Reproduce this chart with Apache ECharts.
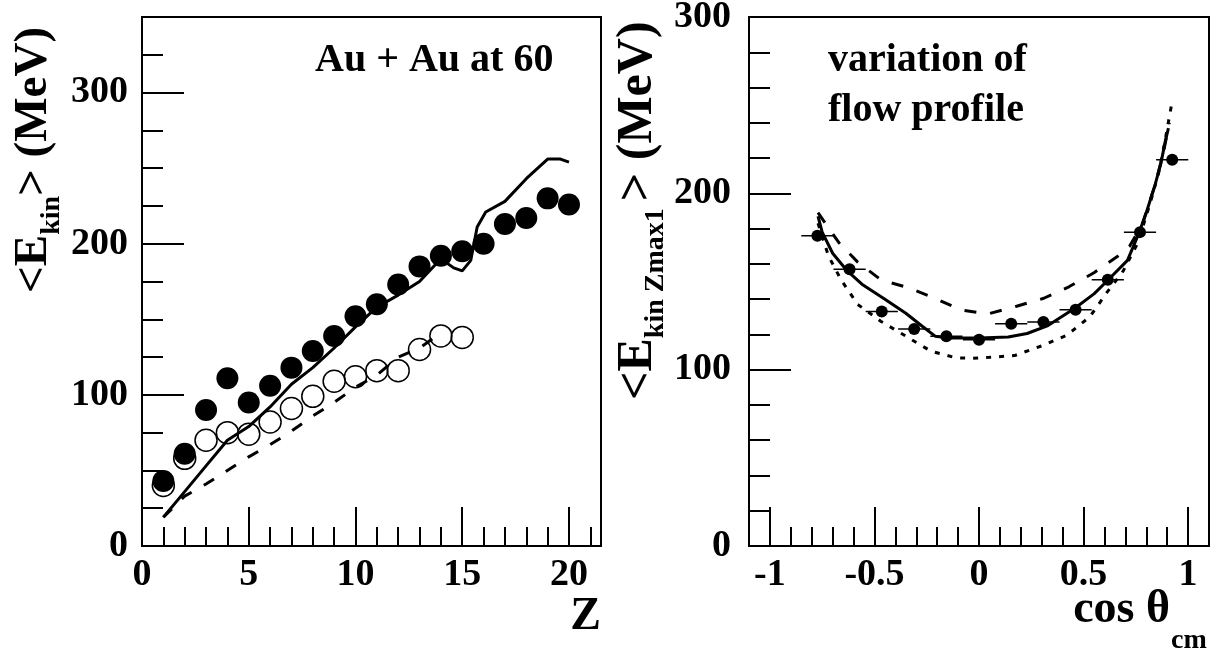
<!DOCTYPE html>
<html>
<head>
<meta charset="utf-8">
<script src="https://cdn.jsdelivr.net/npm/echarts@6/dist/echarts.min.js"></script>
<style>
  html, body { margin: 0; padding: 0; background: #fff; }
  #chart { width: 1217px; height: 653px; }
</style>
</head>
<body>
<div id="chart"></div>
<script>
    const SERIF = "'Liberation Serif', 'Times New Roman', serif";

    // ---- left panel: <E_kin> vs Z ----
    const zFilled = [1, 2, 3, 4, 5, 6, 7, 8, 9, 10, 11, 12, 13, 14, 15, 16, 17, 18, 19, 20];
    const eFilled = [43, 61, 90, 111, 95, 106, 118, 129, 139, 152, 160, 173, 185, 192, 195, 200, 213, 217, 230, 226];
    const zOpen = [1, 2, 3, 4, 5, 6, 7, 8, 9, 10, 11, 12, 13, 14, 15];
    const eOpen = [40, 58, 70, 75, 74, 82, 91, 99, 109, 112, 116, 116, 130, 139, 138];
    const zSolid = [1, 2, 3, 4, 5, 6, 7, 8, 9, 10, 11, 12, 13, 14, 14.6, 15, 15.4, 15.7, 16.1, 17, 18, 19, 19.6, 20];
    const eSolid = [19, 36, 53, 70, 79, 92, 107, 118, 131, 145, 158, 166, 175, 190, 184, 182, 189, 211, 221, 228, 243, 256, 256, 254];
    const zDashed = [1, 2, 3, 4, 5, 6, 7, 8, 9, 10, 11, 12, 13, 13.7];
    const eDashed = [19, 33, 41, 50, 59, 67, 76, 86, 95, 105, 113, 125, 131, 138];
    const zTicks = [0, 5, 10, 15, 20];
    const eTicksLeft = [0, 100, 200, 300];

    // ---- right panel: <E_kin Zmax1> vs cos theta_cm ----
    const cosBins = [-0.773, -0.619, -0.465, -0.31, -0.156, 0, 0.154, 0.308, 0.462, 0.616, 0.77, 0.924];
    const eBins = [176, 157, 133, 123, 119, 117, 126, 127, 134, 151, 178, 219];
    const cosHalfWidth = [0.077, 0.077, 0.077, 0.077, 0.077, 0.077, 0.077, 0.077, 0.077, 0.077, 0.077, 0.077];
    const cosSolid = [-0.77, -0.75, -0.70, -0.63, -0.56, -0.45, -0.35, -0.27, -0.21, -0.14, 0.0, 0.14, 0.23, 0.33, 0.46, 0.55, 0.61, 0.71, 0.76, 0.80, 0.84, 0.87, 0.89, 0.906];
    const eSolidR = [187, 178, 166, 156, 148.5, 140, 132, 124.5, 119, 118, 118, 118.5, 120.5, 125, 135, 143, 150, 162, 176, 189, 204, 217, 229, 237];
    const cosDashed = [-0.77, -0.67, -0.58, -0.47, -0.34, -0.22, -0.09, 0.04, 0.18, 0.31, 0.43, 0.55, 0.66, 0.72, 0.78, 0.84, 0.88, 0.91];
    const eDashedR = [189, 172, 161, 151, 146.5, 141, 134, 131.5, 136, 140.5, 147, 155, 164, 170, 182, 204, 222, 240];
    const cosDotted = [-0.77, -0.72, -0.66, -0.58, -0.47, -0.35, -0.23, -0.11, -0.03, 0.05, 0.17, 0.30, 0.42, 0.53, 0.61, 0.69, 0.76, 0.82, 0.86, 0.89, 0.922];
    const eDottedR = [183, 164.5, 151, 137, 127.5, 119, 110.5, 106.7, 106.5, 107, 108, 113.5, 119.5, 130, 143.5, 156, 172, 195, 212, 230, 251];
    const cosTicks = [-1, -0.5, 0, 0.5, 1];
    const eTicksRight = [0, 100, 200, 300];

    function pairs(xs, ys) {
        return xs.map(function (x, i) { return [x, ys[i]]; });
    }

    // long ticks + labels
    function majorAxis(grid, min, max, ticks, pos, tickLen, margin) {
        return {
            type: 'value', gridIndex: grid, min: min, max: max, position: pos,
            axisLine: { show: false, onZero: false },
            splitLine: { show: false },
            axisTick: { show: true, inside: true, length: tickLen, customValues: ticks,
                        lineStyle: { color: '#000', width: 2 } },
            axisLabel: { show: true, customValues: ticks, margin: margin, color: '#000',
                         fontFamily: SERIF, fontWeight: 'bold', fontSize: 38 }
        };
    }
    // short ticks only
    function minorAxis(grid, min, max, step, pos, tickLen) {
        return {
            type: 'value', gridIndex: grid, min: min, max: max, interval: step, position: pos,
            axisLine: { show: false, onZero: false },
            splitLine: { show: false },
            axisTick: { show: true, inside: true, length: tickLen, lineStyle: { color: '#000', width: 2 } },
            axisLabel: { show: false }
        };
    }

    function txt(x, y, text, size, align, extra) {
        return Object.assign({
            type: 'text', x: x, y: y,
            style: { text: text, fontFamily: SERIF, fontWeight: 'bold', fontSize: size,
                     fill: '#000', align: align, verticalAlign: 'middle' }
        }, extra || {});
    }

    const chart = echarts.init(document.getElementById('chart'));
    const option = {
        animation: false,
        backgroundColor: '#fff',
        grid: [
            { left: 142, top: 17, width: 459, height: 529, show: true, borderColor: '#000', borderWidth: 2, outerBoundsMode: 'none' },
            { left: 749, top: 17, width: 460, height: 529, show: true, borderColor: '#000', borderWidth: 2, outerBoundsMode: 'none' }
        ],
        xAxis: [
            majorAxis(0, 0, 21.5, zTicks, 'bottom', 39, 10),
            minorAxis(0, 0, 21.5, 1, 'bottom', 19),
            majorAxis(1, -1.1, 1.1, cosTicks, 'bottom', 39, 10),
            minorAxis(1, -1.1, 1.1, 0.1, 'bottom', 19)
        ],
        yAxis: [
            majorAxis(0, 0, 350, eTicksLeft, 'left', 42, 14),
            minorAxis(0, 0, 350, 25, 'left', 21),
            majorAxis(1, 0, 300, eTicksRight, 'left', 42, 18),
            minorAxis(1, 0, 300, 20, 'left', 21)
        ],
        graphic: [
            txt(34, 293, '', 47, 'left', {
                rotation: Math.PI / 2,
                style: { text: '{b|<E}{s|kin}{b|> (MeV)}', align: 'left', verticalAlign: 'middle',
                    rich: {
                        b: { fontFamily: SERIF, fontWeight: 'bold', fontSize: 47, lineHeight: 64, fill: '#000' },
                        s: { fontFamily: SERIF, fontWeight: 'bold', fontSize: 28, lineHeight: 28, verticalAlign: 'bottom', fill: '#000' }
                    } }
            }),
            txt(638, 400, '', 50, 'left', {
                rotation: Math.PI / 2,
                style: { text: '{b|<E}{s|kin Zmax1 }{b|> (MeV)}', align: 'left', verticalAlign: 'middle',
                    rich: {
                        b: { fontFamily: SERIF, fontWeight: 'bold', fontSize: 50, lineHeight: 64, fill: '#000' },
                        s: { fontFamily: SERIF, fontWeight: 'bold', fontSize: 28, lineHeight: 30, verticalAlign: 'bottom', fill: '#000' }
                    } }
            }),
            txt(601, 617, 'Z', 46, 'right'),
            txt(1170, 610, 'cos θ', 46, 'right'),
            txt(1171, 641, 'cm', 28, 'left'),
            txt(315, 61, 'Au + Au at 60', 40, 'left'),
            txt(828, 61, 'variation of', 40, 'left'),
            txt(828, 111, 'flow profile', 40, 'left')
        ],
        series: [
            {
                name: 'model solid', type: 'line', xAxisIndex: 0, yAxisIndex: 0,
                data: pairs(zSolid, eSolid), showSymbol: false, smooth: false,
                lineStyle: { color: '#000', width: 3 }
            },
            {
                name: 'model dashed', type: 'line', xAxisIndex: 0, yAxisIndex: 0,
                data: pairs(zDashed, eDashed), showSymbol: false,
                lineStyle: { color: '#000', width: 3, type: [12, 14] }
            },
            {
                name: 'open', type: 'scatter', xAxisIndex: 0, yAxisIndex: 0,
                data: pairs(zOpen, eOpen), symbol: 'circle', symbolSize: 22,
                itemStyle: { color: 'rgba(0,0,0,0)', borderColor: '#000', borderWidth: 1.5, opacity: 1 }
            },
            {
                name: 'filled', type: 'scatter', xAxisIndex: 0, yAxisIndex: 0,
                data: pairs(zFilled, eFilled), symbol: 'circle', symbolSize: 22,
                itemStyle: { color: '#000', opacity: 1 }
            },
            {
                name: 'flow solid', type: 'line', xAxisIndex: 2, yAxisIndex: 2,
                data: pairs(cosSolid, eSolidR), showSymbol: false,
                lineStyle: { color: '#000', width: 3 }
            },
            {
                name: 'flow dashed', type: 'line', xAxisIndex: 2, yAxisIndex: 2,
                data: pairs(cosDashed, eDashedR), showSymbol: false,
                lineStyle: { color: '#000', width: 3, type: [12, 14] }
            },
            {
                name: 'flow dotted', type: 'line', xAxisIndex: 2, yAxisIndex: 2,
                data: pairs(cosDotted, eDottedR), showSymbol: false,
                lineStyle: { color: '#000', width: 3, type: [5, 8] }
            },
            {
                name: 'bin width', type: 'custom', xAxisIndex: 2, yAxisIndex: 2,
                data: cosBins.map(function (c, i) { return [c, eBins[i], cosHalfWidth[i]]; }),
                encode: { x: 0, y: 1 },
                renderItem: function (params, api) {
                    const lo = api.coord([api.value(0) - api.value(2), api.value(1)]);
                    const hi = api.coord([api.value(0) + api.value(2), api.value(1)]);
                    return { type: 'line', shape: { x1: lo[0], y1: lo[1], x2: hi[0], y2: hi[1] },
                             style: { stroke: '#000', lineWidth: 1.5 } };
                }
            },
            {
                name: 'data', type: 'scatter', xAxisIndex: 2, yAxisIndex: 2,
                data: pairs(cosBins, eBins), symbol: 'circle', symbolSize: 12,
                itemStyle: { color: '#000', opacity: 1 }
            }
        ]
    };
    chart.setOption(option);
</script>
</body>
</html>
